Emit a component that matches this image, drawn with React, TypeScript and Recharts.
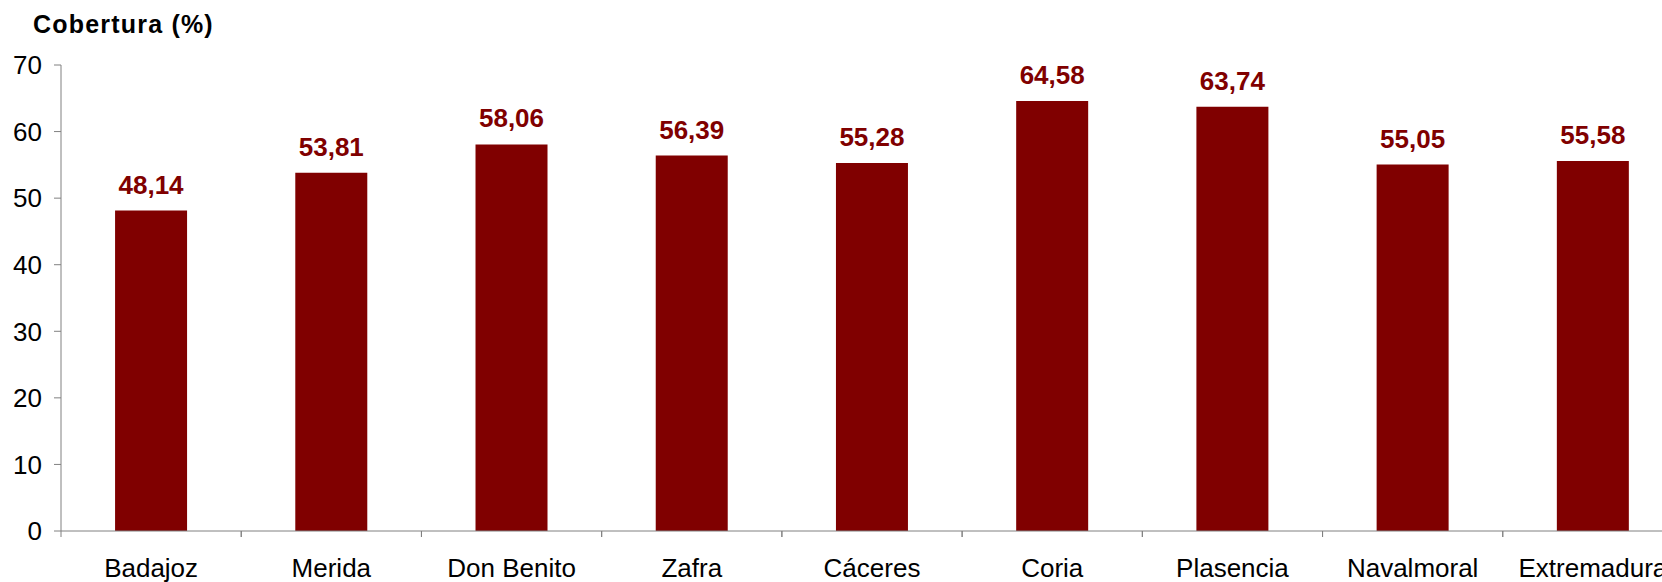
import React from "react";
import { BarChart, Bar, XAxis, YAxis, LabelList } from "recharts";

const categories = ["Badajoz", "Merida", "Don Benito", "Zafra", "Cáceres", "Coria", "Plasencia", "Navalmoral", "Extremadura"];
const coverage = [48.14, 53.81, 58.06, 56.39, 55.28, 64.58, 63.74, 55.05, 55.58];
const yTicks = [0, 10, 20, 30, 40, 50, 60, 70];
const title = "Cobertura (%)";

const data = categories.map((name, i) => ({ name, value: coverage[i] }));

const FONT = "'Liberation Sans', Arial, sans-serif";
const BAR = "#800000";
const AXIS = "#808080";
const TICK_SIZE = 6;
const TICK_MARGIN = 22;

const CatTick = (props: any) => {
  const { x, y, payload } = props;
  const off = payload && payload.offset ? payload.offset : 0;
  const axisY = y - TICK_MARGIN - TICK_SIZE;
  return (
    <g>
      <line x1={x - off} x2={x - off} y1={axisY} y2={axisY + TICK_SIZE} stroke={AXIS} strokeWidth={1} />
      <line x1={x + off} x2={x + off} y1={axisY} y2={axisY + TICK_SIZE} stroke={AXIS} strokeWidth={1} />
      <text x={x} y={y} dy="0.71em" textAnchor="middle" fill="#000" fontSize={26} fontFamily={FONT}>
        {payload.value}
      </text>
    </g>
  );
};

const fmt = (v: any) => Number(v).toFixed(2).replace(".", ",");

export default function App() {
  return (
    <div style={{ position: "absolute", left: 0, top: 0, width: 1662, height: 582, overflow: "hidden", background: "#fff" }}>
      <div
        style={{
          position: "absolute",
          left: 33,
          top: 12,
          fontFamily: FONT,
          fontWeight: "bold",
          fontSize: 25,
          lineHeight: "25px",
          letterSpacing: 1.2,
          color: "#000",
          whiteSpace: "nowrap",
          zIndex: 2,
        }}
      >
        {title}
      </div>
      <BarChart
        width={1700}
        height={582}
        data={data}
        margin={{ top: 65, right: 17, left: 0, bottom: 0 }}
        barCategoryGap="30%"
      >
        <XAxis
          dataKey="name"
          height={51}
          interval={0}
          tickLine={false}
          tickSize={TICK_SIZE}
          tickMargin={TICK_MARGIN}
          axisLine={{ stroke: AXIS, strokeWidth: 1 }}
          tick={<CatTick />}
        />
        <YAxis
          width={61}
          domain={[0, 70]}
          ticks={yTicks}
          interval={0}
          tickSize={7}
          tickMargin={12}
          axisLine={{ stroke: AXIS, strokeWidth: 1 }}
          tickLine={{ stroke: AXIS, strokeWidth: 1 }}
          tick={{ fill: "#000", fontSize: 26, fontFamily: FONT }}
        />
        <Bar dataKey="value" fill={BAR} isAnimationActive={false}>
          <LabelList
            dataKey="value"
            position="top"
            offset={17}
            formatter={fmt}
            fill={BAR}
            fontSize={26}
            fontWeight="bold"
            fontFamily={FONT}
          />
        </Bar>
      </BarChart>
    </div>
  );
}
